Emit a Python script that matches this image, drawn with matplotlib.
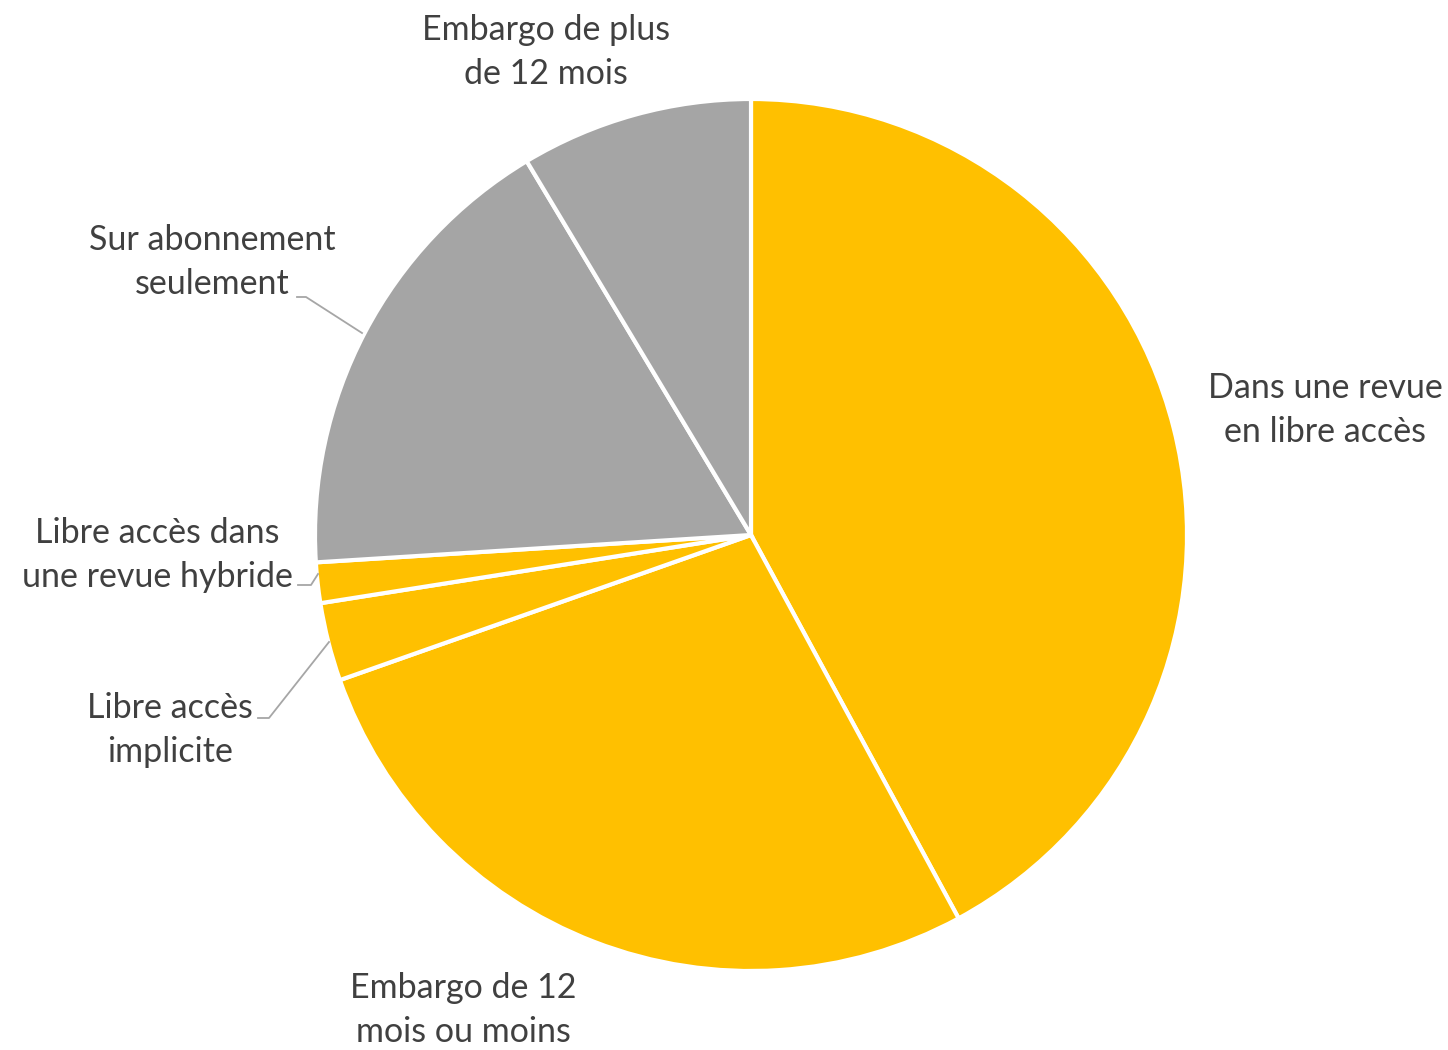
import matplotlib.pyplot as plt

labels = [
    "Dans une revue\nen libre accès",
    "Embargo de 12\nmois ou moins",
    "Libre accès\nimplicite",
    "Libre accès dans\nune revue hybride",
    "Sur abonnement\nseulement",
    "Embargo de plus\nde 12 mois",
]
shares = [42.1, 27.5, 2.9, 1.5, 17.4, 8.6]
colors = ["#FFC000", "#FFC000", "#FFC000", "#FFC000", "#A5A5A5", "#A5A5A5"]

# Canvas in pixel units (origin bottom-left), pie geometry
W, H = 1448, 1050
CX, CY, R = 751, H - 535, 436

# Label centres (pixels from top-left) and optional leader-line polylines
label_pos = [(1325, 410), (463, 1010), (170, 730), (157, 555), (212, 262), (546, 52)]
leaders = {
    2: [(258, 718), (269, 718), (329, 642)],
    3: [(298, 585), (311, 585), (318, 574)],
    4: [(297, 297), (306, 297), (362, 333)],
}

plt.rcParams["font.family"] = ["Lato", "DejaVu Sans"]

fig = plt.figure(figsize=(W / 100, H / 100), dpi=100)
ax = fig.add_axes([0, 0, 1, 1])
ax.pie(
    shares, colors=colors, startangle=90, counterclock=False,
    center=(CX, CY), radius=R, frame=True,
    wedgeprops=dict(edgecolor="white", linewidth=3),
)
ax.set_xlim(0, W)
ax.set_ylim(0, H)
ax.set_aspect("equal")
ax.axis("off")

for i, (lab, (x, y)) in enumerate(zip(labels, label_pos)):
    ax.text(x, H - y, lab, ha="center", va="center", fontsize=24.5,
            color="#404040", linespacing=1.45)
    if i in leaders:
        xs = [p[0] for p in leaders[i]]
        ys = [H - p[1] for p in leaders[i]]
        ax.plot(xs, ys, color="#A6A6A6", lw=1.3)

fig.savefig("out.png", dpi=100)
